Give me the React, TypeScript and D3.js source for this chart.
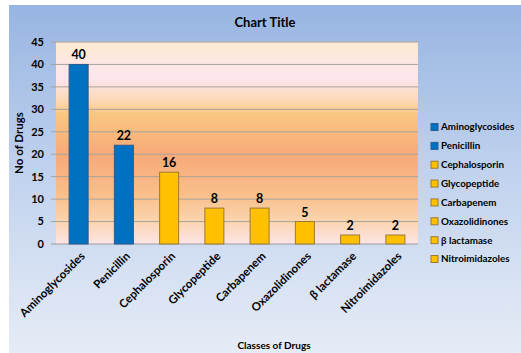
import React from "react";
import * as d3 from "d3";

const categories = ["Aminoglycosides", "Penicillin", "Cephalosporin", "Glycopeptide", "Carbapenem", "Oxazolidinones", "β lactamase", "Nitroimidazoles"];
const values = [40, 22, 16, 8, 8, 5, 2, 2];
const barColors = ["#0070C0", "#0070C0", "#FFC000", "#FFC000", "#FFC000", "#FFC000", "#FFC000", "#FFC000"];
const borderColors = ["#2A5C8F", "#2A5C8F", "#9C7A34", "#9C7A34", "#9C7A34", "#9C7A34", "#9C7A34", "#9C7A34"];
const yTicks = [0, 5, 10, 15, 20, 25, 30, 35, 40, 45];

const W = 521, H = 353;
const plot = { left: 56, right: 418, top: 42, bottom: 244 };
const FONT = "Lato, 'Open Sans', sans-serif";

export default function App() {
  const x = d3.scaleBand<string>().domain(categories).range([plot.left, plot.right]).paddingInner(0.58).paddingOuter(0.29);
  const y = d3.scaleLinear().domain([0, 45]).range([plot.bottom, plot.top]);
  const legendY = d3.scalePoint<string>().domain(categories).range([127, 259]);

  return (
    <svg width={W} height={H} style={{ position: "absolute", left: 0, top: 0, background: "#fff" }}>
      <defs>
        <linearGradient id="chartBg" x1="0" y1="0" x2="0" y2="1">
          <stop offset="0" stopColor="#97B5E2" />
          <stop offset="0.5" stopColor="#C2D3EE" />
          <stop offset="1" stopColor="#E6ECF6" />
        </linearGradient>
        <linearGradient id="plotBg" x1="0" y1="0" x2="0" y2="1">
          <stop offset="0" stopColor="#FCEAD0" />
          <stop offset="0.1" stopColor="#FDE7E4" />
          <stop offset="0.18" stopColor="#FDE6EC" />
          <stop offset="0.28" stopColor="#FCDBBC" />
          <stop offset="0.36" stopColor="#F9C680" />
          <stop offset="0.56" stopColor="#F8A97A" />
          <stop offset="0.75" stopColor="#F9BE8A" />
          <stop offset="0.88" stopColor="#FBD3AC" />
          <stop offset="1" stopColor="#FDE5E6" />
        </linearGradient>
      </defs>
      <rect x={9} y={5} width={W - 9} height={H - 5} fill="url(#chartBg)" />
      <rect x={plot.left} y={plot.top} width={plot.right - plot.left} height={plot.bottom - plot.top} fill="url(#plotBg)" />
      {yTicks.map((t) => (
        <g key={t}>
          <line x1={plot.left - 5} x2={plot.right} y1={y(t)} y2={y(t)} stroke={t === 0 ? "#9A9A9A" : "#A8A39C"} strokeWidth={1} />
          <text x={44} y={y(t)} dy="0.35em" textAnchor="end" fontFamily={FONT} fontWeight="bold" fontSize={11} fill="#000">{t}</text>
        </g>
      ))}
      {categories.map((c, i) => (
        <g key={c}>
          <rect x={x(c)!} y={y(values[i])} width={x.bandwidth()} height={y(0) - y(values[i])} fill={barColors[i]} stroke={borderColors[i]} strokeWidth={1} />
          <text x={x(c)! + x.bandwidth() / 2} y={y(values[i]) - 5} textAnchor="middle" fontFamily={FONT} fontWeight="bold" fontSize={12.5} fill="#000">{values[i]}</text>
          <text transform={`translate(${x(c)! + x.bandwidth() / 2 + 4},${plot.bottom + 10}) rotate(-45)`} textAnchor="end" dy="0.35em" fontFamily={FONT} fontWeight="bold" fontSize={11.5} fill="#000">{c}</text>
        </g>
      ))}
      <text x={265} y={27} textAnchor="middle" fontFamily={FONT} fontWeight="bold" fontSize={13} fill="#000">Chart Title</text>
      <text x={274} y={349} textAnchor="middle" fontFamily={FONT} fontWeight="bold" fontSize={10} fill="#000">Classes of Drugs</text>
      <text transform={`translate(23,${(plot.top + plot.bottom) / 2}) rotate(-90)`} textAnchor="middle" fontFamily={FONT} fontWeight="bold" fontSize={11.5} fill="#000">No of Drugs</text>
      {categories.map((c, i) => (
        <g key={"lg" + c}>
          <rect x={431} y={legendY(c)! - 3.5} width={7} height={7} fill={barColors[i]} stroke={borderColors[i]} strokeWidth={1} />
          <text x={441} y={legendY(c)!} dy="0.35em" fontFamily={FONT} fontWeight="bold" fontSize={9.8} fill="#000">{c}</text>
        </g>
      ))}
    </svg>
  );
}
